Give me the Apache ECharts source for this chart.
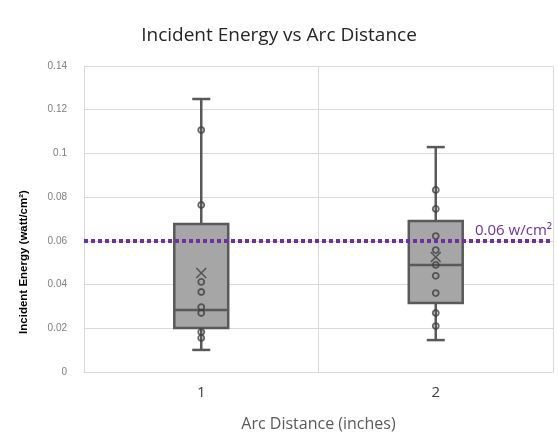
<!DOCTYPE html>
<html>
<head>
<meta charset="utf-8">
<script src="https://cdn.jsdelivr.net/npm/echarts@6/dist/echarts.min.js"></script>
<style>
  html, body { margin: 0; padding: 0; background: #fff; }
  #chart { width: 558px; height: 437px; }
</style>
</head>
<body>
<div id="chart"></div>
<script>
// arc distance categories
var categories = ['1', '2'];
// [min, Q1, median, Q3, max] per category
var boxValues = [
  [0.0101, 0.0201, 0.0284, 0.0677, 0.1249],
  [0.0146, 0.0316, 0.0490, 0.0691, 0.1029]
];
// inner data points
var points1 = [0.1107, 0.0764, 0.0412, 0.0366, 0.0297, 0.0270, 0.0183, 0.0156];
var points2 = [0.0833, 0.0746, 0.0622, 0.0558, 0.0490, 0.0440, 0.0361, 0.0270, 0.0210];
var means = [0.0453, 0.0526];
var limit = 0.06;
var yTicks = { min: 0, max: 0.14, step: 0.02 };

var myChart = echarts.init(document.getElementById('chart'));

var boxData = [];
for (var b = 0; b < boxValues.length; b++) boxData.push([b].concat(boxValues[b]));
var scatterData = [];
for (var i = 0; i < points1.length; i++) scatterData.push([0, points1[i]]);
for (var j = 0; j < points2.length; j++) scatterData.push([1, points2[j]]);
var meanData = [];
for (var k = 0; k < means.length; k++) meanData.push([k, means[k]]);

function renderBox(params, api) {
  var x = api.value(0);
  var pMin = api.coord([x, api.value(1)]);
  var pQ1 = api.coord([x, api.value(2)]);
  var pMed = api.coord([x, api.value(3)]);
  var pQ3 = api.coord([x, api.value(4)]);
  var pMax = api.coord([x, api.value(5)]);
  var bw = api.size([1, 0])[0] * 0.23;
  var cw = 18;
  var cx = pMed[0];
  var line = { stroke: '#595959', lineWidth: 2.5 };
  return {
    type: 'group',
    children: [
      { type: 'line', shape: { x1: cx, y1: pMax[1], x2: cx, y2: pQ3[1] }, style: line },
      { type: 'line', shape: { x1: cx, y1: pQ1[1], x2: cx, y2: pMin[1] }, style: line },
      { type: 'line', shape: { x1: cx - cw / 2, y1: pMax[1], x2: cx + cw / 2, y2: pMax[1] }, style: line },
      { type: 'line', shape: { x1: cx - cw / 2, y1: pMin[1], x2: cx + cw / 2, y2: pMin[1] }, style: line },
      { type: 'rect', shape: { x: cx - bw / 2, y: pQ3[1], width: bw, height: pQ1[1] - pQ3[1] },
        style: { fill: '#a6a6a6', stroke: '#595959', lineWidth: 2.5 } },
      { type: 'line', shape: { x1: cx - bw / 2, y1: pMed[1], x2: cx + bw / 2, y2: pMed[1] }, style: line }
    ]
  };
}

var option = {
  animation: false,
  title: {
    text: 'Incident Energy vs Arc Distance',
    left: 'center',
    top: 21,
    textStyle: { fontFamily: 'Open Sans', fontSize: 19, fontWeight: 'normal', color: '#262626' }
  },
  grid: { left: 84, right: 5, top: 66, bottom: 65 },
  xAxis: {
    type: 'category',
    data: categories,
    boundaryGap: true,
    name: 'Arc Distance (inches)',
    nameLocation: 'middle',
    nameGap: 44,
    nameTextStyle: { fontFamily: 'Open Sans', fontSize: 16, color: '#595959' },
    axisLine: { lineStyle: { color: '#d9d9d9' } },
    axisTick: { show: false },
    axisLabel: { fontFamily: 'Open Sans', fontSize: 15, color: '#404040', margin: 13 },
    splitLine: { show: true, lineStyle: { color: '#d9d9d9' } }
  },
  yAxis: {
    type: 'value',
    min: yTicks.min,
    max: yTicks.max,
    interval: yTicks.step,
    name: 'Incident Energy (watt/cm²)',
    nameLocation: 'middle',
    nameGap: 54,
    nameTextStyle: { fontFamily: 'Liberation Sans', fontSize: 11.5, fontWeight: 'bold', color: '#000', padding: [0, 86, 0, 0] },
    axisLine: { show: true, lineStyle: { color: '#d9d9d9' } },
    axisTick: { show: false },
    axisLabel: { fontFamily: 'Liberation Sans', fontSize: 10, color: '#7f7f7f', margin: 17 },
    splitLine: { lineStyle: { color: '#d9d9d9' } }
  },
  series: [
    {
      type: 'custom',
      data: boxData,
      renderItem: renderBox,
      encode: { x: 0, y: [1, 2, 3, 4, 5] },
      z: 2,
      markLine: {
        symbol: 'none',
        silent: true,
        lineStyle: { color: '#7030a0', type: [4, 3], width: 4, cap: 'butt' },
        label: {
          show: true,
          position: 'insideEndTop',
          formatter: '0.06 w/cm²',
          color: '#7030a0',
          fontFamily: 'Open Sans',
          fontSize: 15,
          distance: [1, 3]
        },
        data: [{ yAxis: limit }]
      }
    },
    {
      type: 'scatter',
      data: scatterData,
      symbol: 'circle',
      symbolSize: 6,
      itemStyle: { color: 'rgba(0,0,0,0)', borderColor: '#404040', borderWidth: 1.8 },
      z: 3
    },
    {
      type: 'scatter',
      data: meanData,
      symbol: 'path://M0,1L1,0L5,4L9,0L10,1L6,5L10,9L9,10L5,6L1,10L0,9L4,5Z',
      symbolSize: 11,
      itemStyle: { color: '#404040' },
      z: 3
    }
  ]
};

myChart.setOption(option);
</script>
</body>
</html>
